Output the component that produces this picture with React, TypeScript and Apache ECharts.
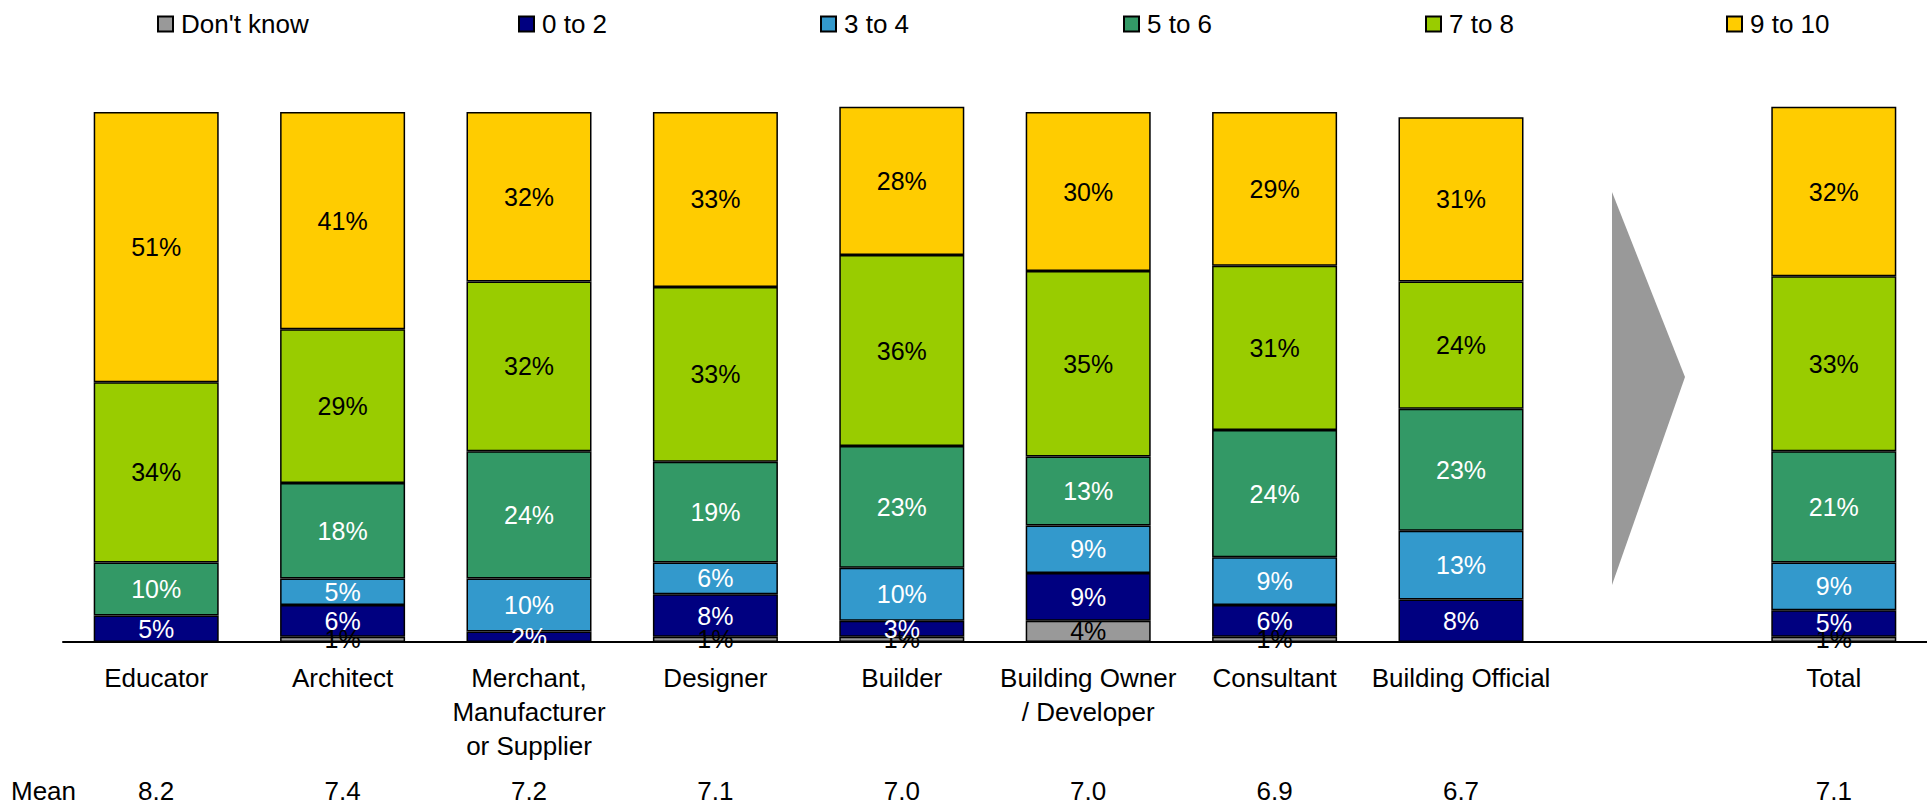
import React, { useEffect, useRef } from "react";
import * as echarts from "echarts";

// Respondent groups (slot 8 is an empty spacer holding the arrow)
const categories = [
  "Educator",
  "Architect",
  "Merchant,\nManufacturer\nor Supplier",
  "Designer",
  "Builder",
  "Building Owner\n/ Developer",
  "Consultant",
  "Building Official",
  "",
  "Total",
];

// Share of ratings per score band, in %
const dontKnow = [0, 1, 0, 1, 1, 4, 1, 0, null, 1];
const zeroToTwo = [5, 6, 2, 8, 3, 9, 6, 8, null, 5];
const threeToFour = [0, 5, 10, 6, 10, 9, 9, 13, null, 9];
const fiveToSix = [10, 18, 24, 19, 23, 13, 24, 23, null, 21];
const sevenToEight = [34, 29, 32, 33, 36, 35, 31, 24, null, 33];
const nineToTen = [51, 41, 32, 33, 28, 30, 29, 31, null, 32];

// Mean score per group
const means = ["8.2", "7.4", "7.2", "7.1", "7.0", "7.0", "6.9", "6.7", "", "7.1"];

const bandNames = ["Don't know", "0 to 2", "3 to 4", "5 to 6", "7 to 8", "9 to 10"];
const bandValues = [dontKnow, zeroToTwo, threeToFour, fiveToSix, sevenToEight, nineToTen];
const bandColors = ["#999999", "#000080", "#3399CC", "#339966", "#99CC00", "#FFCC00"];
const labelColors = ["#000000", "#FFFFFF", "#FFFFFF", "#FFFFFF", "#000000", "#000000"];
const legendLefts = [152, 513, 815, 1118, 1420, 1721];

const FONT = "'Liberation Sans', Arial, sans-serif";
const FS = 26;

export default function App() {
  const ref = useRef<HTMLDivElement>(null);

  useEffect(() => {
    if (!ref.current) return;
    const chart = echarts.init(ref.current, null, { renderer: "svg" });

    const series = bandNames.map((name, i) => ({
      name,
      type: "bar",
      stack: "total",
      xAxisIndex: 0,
      barWidth: 125,
      clip: false,
      data: bandValues[i].map((v) => (v === null || v === 0 ? "-" : v)),
      itemStyle: {
        color: bandColors[i],
        borderColor: "#000000",
        borderWidth: 1.5,
      },
      label: {
        show: true,
        position: "inside",
        color: labelColors[i],
        fontSize: 25,
        fontFamily: FONT,
        formatter: (p: any) => (p.value ? p.value + "%" : ""),
      },
    }));

    const legends = bandNames.map((name, i) => ({
      data: [name],
      left: legendLefts[i],
      top: 6,
      icon: "rect",
      itemWidth: 15,
      itemHeight: 15,
      selectedMode: false,
      textStyle: {
        fontSize: FS,
        fontFamily: FONT,
        color: "#000000",
        padding: [0, 0, 0, 3],
      },
    }));

    chart.setOption({
      animation: false,
      backgroundColor: "#FFFFFF",
      textStyle: { fontFamily: FONT },
      legend: legends,
      grid: { left: 63, right: 0, top: 112, bottom: 164 },
      xAxis: [
        {
          type: "category",
          data: categories,
          position: "bottom",
          axisLine: { show: true, lineStyle: { color: "#000000", width: 2 } },
          axisTick: { show: false },
          axisLabel: {
            interval: 0,
            margin: 19,
            fontSize: FS,
            fontFamily: FONT,
            color: "#000000",
            lineHeight: 34,
          },
        },
        {
          type: "category",
          data: means,
          position: "bottom",
          offset: 117,
          axisLine: { show: false },
          axisTick: { show: false },
          axisLabel: {
            interval: 0,
            margin: 19,
            fontSize: FS,
            fontFamily: FONT,
            color: "#000000",
            lineHeight: 26,
          },
        },
      ],
      yAxis: {
        type: "value",
        min: 0,
        max: 100,
        show: false,
        splitLine: { show: false },
      },
      series,
      graphic: [
        {
          type: "polygon",
          shape: {
            points: [
              [1612, 192],
              [1685, 377],
              [1612, 585],
            ],
          },
          style: { fill: "#999999" },
        },
        {
          type: "text",
          left: 11,
          top: 778,
          style: {
            text: "Mean",
            fontSize: FS,
            fontFamily: FONT,
            fill: "#000000",
          },
        },
      ],
    });

    return () => chart.dispose();
  }, []);

  return (
    <div
      ref={ref}
      style={{ position: "absolute", left: 0, top: 0, width: 1927, height: 806 }}
    />
  );
}
